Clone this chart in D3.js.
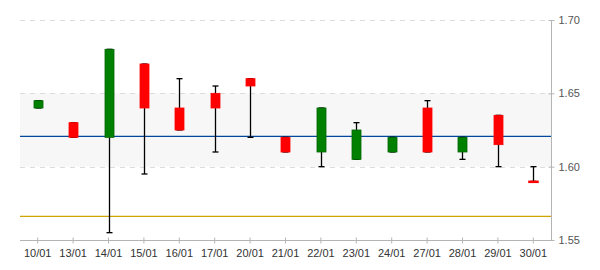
<!DOCTYPE html>
<html>
<head>
<meta charset="utf-8">
<script src="https://cdn.jsdelivr.net/npm/d3@7"></script>
<style>
  body { margin: 0; background: #fff; }
  svg { display: block; font-family: "Liberation Sans", Arial, sans-serif; }
</style>
</head>
<body>
<svg id="chart" width="600" height="270"></svg>
<script>
// candle data
var dates = ['10/01','13/01','14/01','15/01','16/01','17/01','20/01','21/01','22/01','23/01','24/01','27/01','28/01','29/01','30/01'];
var opens  = [1.640, 1.630, 1.620, 1.670, 1.640, 1.650, 1.660, 1.620, 1.610, 1.605, 1.610, 1.640, 1.610, 1.635, 1.590];
var highs  = [1.645, 1.630, 1.680, 1.670, 1.660, 1.655, 1.660, 1.620, 1.640, 1.630, 1.620, 1.645, 1.620, 1.635, 1.600];
var lows   = [1.640, 1.620, 1.555, 1.595, 1.625, 1.610, 1.620, 1.610, 1.600, 1.605, 1.610, 1.610, 1.605, 1.600, 1.590];
var closes = [1.645, 1.620, 1.680, 1.640, 1.625, 1.640, 1.655, 1.610, 1.640, 1.625, 1.620, 1.610, 1.620, 1.615, 1.590];

var yTicks = [1.55, 1.60, 1.65, 1.70];
var bandRange = [1.60, 1.65];
var refLines = [{value: 1.6207, color: '#00479d'}, {value: 1.5661, color: '#d1a300'}];

(function(){
var svg = d3.select('#chart');
// plot box (window.top is reserved, so use own names)
var pl = 20, pr = 551, pt = 20, pb = 240;

var x = d3.scaleBand().domain(dates).range([pl, pr]).padding(0);
var y = d3.scaleLinear().domain([1.55, 1.70]).range([pb, pt]);

var candles = dates.map(function(d, i){
  return {date: d, open: opens[i], high: highs[i], low: lows[i], close: closes[i]};
});

// shaded band
svg.append('rect')
  .attr('x', pl).attr('width', pr - pl)
  .attr('y', y(bandRange[1])).attr('height', y(bandRange[0]) - y(bandRange[1]))
  .attr('fill', '#f7f7f7');

// dashed grid
svg.append('g').selectAll('line')
  .data(yTicks.filter(function(t){ return t > 1.55; })).enter()
  .append('line')
  .attr('x1', pl).attr('x2', pr - 4)
  .attr('y1', function(d){ return Math.round(y(d)) + 0.5; })
  .attr('y2', function(d){ return Math.round(y(d)) + 0.5; })
  .attr('stroke', '#dcdcdc').attr('stroke-dasharray', '5,5');

// reference lines
svg.append('g').selectAll('line')
  .data(refLines).enter()
  .append('line')
  .attr('x1', pl).attr('x2', pr)
  .attr('y1', function(d){ return y(d.value); })
  .attr('y2', function(d){ return y(d.value); })
  .attr('stroke', function(d){ return d.color; })
  .attr('stroke-width', 1.3);

// right axis
var yAxis = svg.append('g')
  .attr('transform', 'translate(' + (pr + 0.5) + ',0)')
  .call(d3.axisRight(y).tickValues(yTicks).tickFormat(d3.format('.2f')).tickSize(3).tickPadding(4));
yAxis.select('.domain').attr('stroke', '#b4b4b4').attr('d', 'M0,' + pt + 'V' + pb);
yAxis.selectAll('.tick line').attr('stroke', '#b4b4b4').attr('x1', -3).attr('x2', 3);
yAxis.selectAll('.tick text').attr('fill', '#555').style('font-size', '11px')
  .style('font-family', '"Liberation Sans", Arial, sans-serif');

// bottom axis
var xAxis = svg.append('g')
  .attr('transform', 'translate(0,' + (pb + 0.5) + ')')
  .call(d3.axisBottom(x).tickSize(3).tickPadding(6));
xAxis.select('.domain').attr('stroke', '#b4b4b4').attr('d', 'M' + pl + ',0H' + pr);
xAxis.selectAll('.tick line').attr('stroke', '#b4b4b4').attr('y1', -3).attr('y2', 3);
xAxis.selectAll('.tick text').attr('fill', '#333').style('font-size', '11px')
  .style('font-family', '"Liberation Sans", Arial, sans-serif');

// candles
var bodyW = 9, capW = 6;
var g = svg.append('g').selectAll('g').data(candles).enter().append('g')
  .attr('transform', function(d){ return 'translate(' + (Math.round(x(d.date) + x.bandwidth() / 2) + 0.5) + ',0)'; });

g.append('line')
  .attr('x1', 0).attr('x2', 0)
  .attr('y1', function(d){ return y(d.high); })
  .attr('y2', function(d){ return y(d.low); })
  .attr('stroke', '#000').attr('stroke-width', 1.3);

g.selectAll('.cap')
  .data(function(d){ return [d.high, d.low]; }).enter()
  .append('line').attr('class', 'cap')
  .attr('x1', -capW / 2).attr('x2', capW / 2)
  .attr('y1', function(v){ return y(v); })
  .attr('y2', function(v){ return y(v); })
  .attr('stroke', '#000').attr('stroke-width', 1.3);

g.append('rect')
  .attr('x', -bodyW / 2)
  .attr('width', bodyW)
  .attr('y', function(d){ return y(Math.max(d.open, d.close)); })
  .attr('height', function(d){ return Math.max(1, Math.abs(y(d.open) - y(d.close))); })
  .attr('fill', function(d){ return d.close > d.open ? '#008000' : '#ff0000'; })
  .attr('stroke', function(d){ return d.close > d.open ? '#006400' : '#ff0000'; })
  .attr('stroke-width', function(d){ return d.close === d.open ? 1.5 : 0.8; });
})();
</script>
</body>
</html>
